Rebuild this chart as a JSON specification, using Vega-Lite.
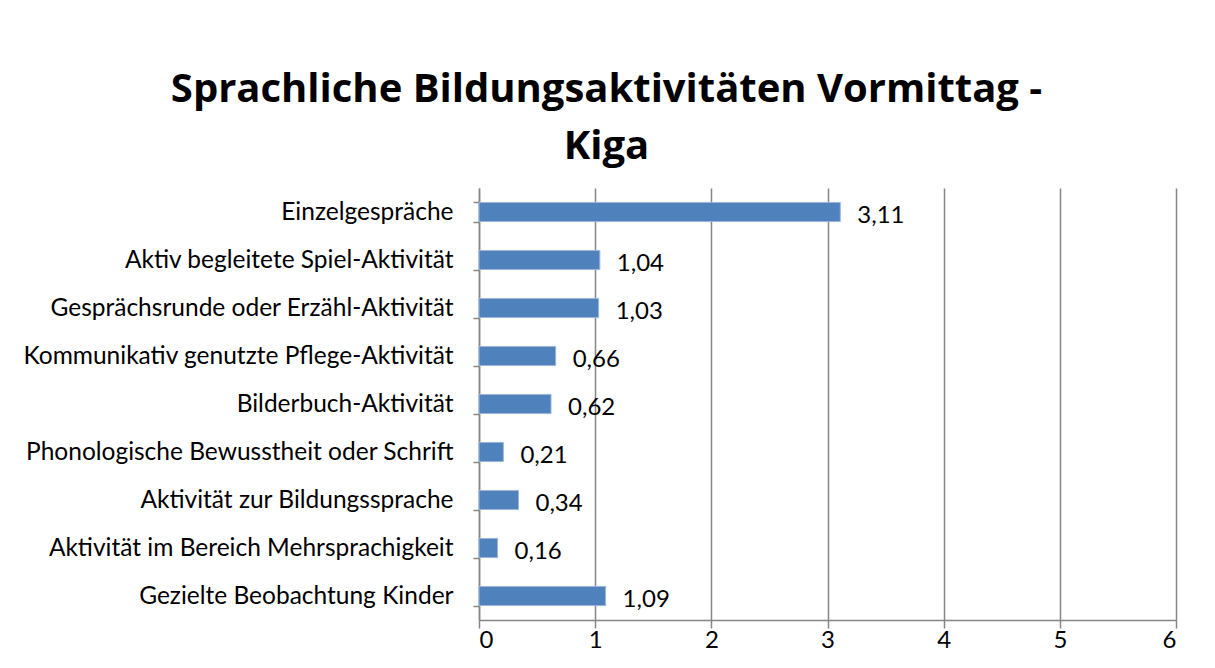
{
  "$schema": "https://vega.github.io/schema/vega-lite/v6.json",
  "width": 697,
  "height": 432,
  "autosize": {"type": "none"},
  "padding": {"left": 479, "top": 188, "right": 39, "bottom": 48},
  "background": "white",
  "config": {
    "locale": {"number": {"decimal": ",", "thousands": ".", "grouping": [3], "currency": ["", " €"]}},
    "view": {"stroke": null},
    "font": "Lato"
  },
  "title": {
    "text": ["Sprachliche Bildungsaktivitäten Vormittag -", "Kiga"],
    "font": "Open Sans",
    "fontSize": 40,
    "fontWeight": "bold",
    "color": "#000000",
    "anchor": "middle",
    "frame": "group",
    "dx": -221,
    "offset": 8,
    "lineHeight": 57
  },
  "data": {
    "values": [
      {"aktivitaet": "Einzelgespräche", "wert": 3.11},
      {"aktivitaet": "Aktiv begleitete Spiel-Aktivität", "wert": 1.04},
      {"aktivitaet": "Gesprächsrunde oder Erzähl-Aktivität", "wert": 1.03},
      {"aktivitaet": "Kommunikativ genutzte Pflege-Aktivität", "wert": 0.66},
      {"aktivitaet": "Bilderbuch-Aktivität", "wert": 0.62},
      {"aktivitaet": "Phonologische Bewusstheit oder Schrift", "wert": 0.21},
      {"aktivitaet": "Aktivität zur Bildungssprache", "wert": 0.34},
      {"aktivitaet": "Aktivität im Bereich Mehrsprachigkeit", "wert": 0.16},
      {"aktivitaet": "Gezielte Beobachtung Kinder", "wert": 1.09}
    ]
  },
  "encoding": {
    "y": {
      "field": "aktivitaet",
      "type": "nominal",
      "sort": null,
      "title": null,
      "scale": {"paddingInner": 0.6, "paddingOuter": 0.3},
      "axis": {
        "tickBand": "extent",
        "tickSize": 6,
        "tickWidth": 1.5,
        "tickColor": "#868686",
        "domainColor": "#868686",
        "domainWidth": 1.5,
        "labelPadding": 20,
        "labelFontSize": 24.5,
        "labelColor": "#000000",
        "labelFont": "Lato",
        "labelLimit": 600,
        "grid": false
      }
    }
  },
  "layer": [
    {
      "mark": {"type": "bar", "color": "#4F81BD", "stroke": "#9DB7DC", "strokeWidth": 1},
      "encoding": {
        "x": {
          "field": "wert",
          "type": "quantitative",
          "title": null,
          "scale": {"domain": [0, 6], "nice": false},
          "axis": {
            "values": [0, 1, 2, 3, 4, 5, 6],
            "grid": true,
            "gridColor": "#868686",
            "gridOpacity": 1,
            "gridWidth": 1.5,
            "tickColor": "#868686",
            "tickWidth": 1.5,
            "domainColor": "#868686",
            "domainWidth": 1.5,
            "tickSize": 8,
            "labelPadding": 0,
            "labelFontSize": 24,
            "labelColor": "#000000",
            "labelFont": "Lato",
            "format": "d"
          }
        }
      }
    },
    {
      "mark": {"type": "text", "align": "left", "baseline": "middle", "dx": 17, "dy": 4, "fontSize": 24, "font": "Lato", "color": "#000000"},
      "encoding": {
        "x": {"field": "wert", "type": "quantitative"},
        "text": {"field": "wert", "type": "quantitative", "format": ".2f"}
      }
    }
  ]
}
